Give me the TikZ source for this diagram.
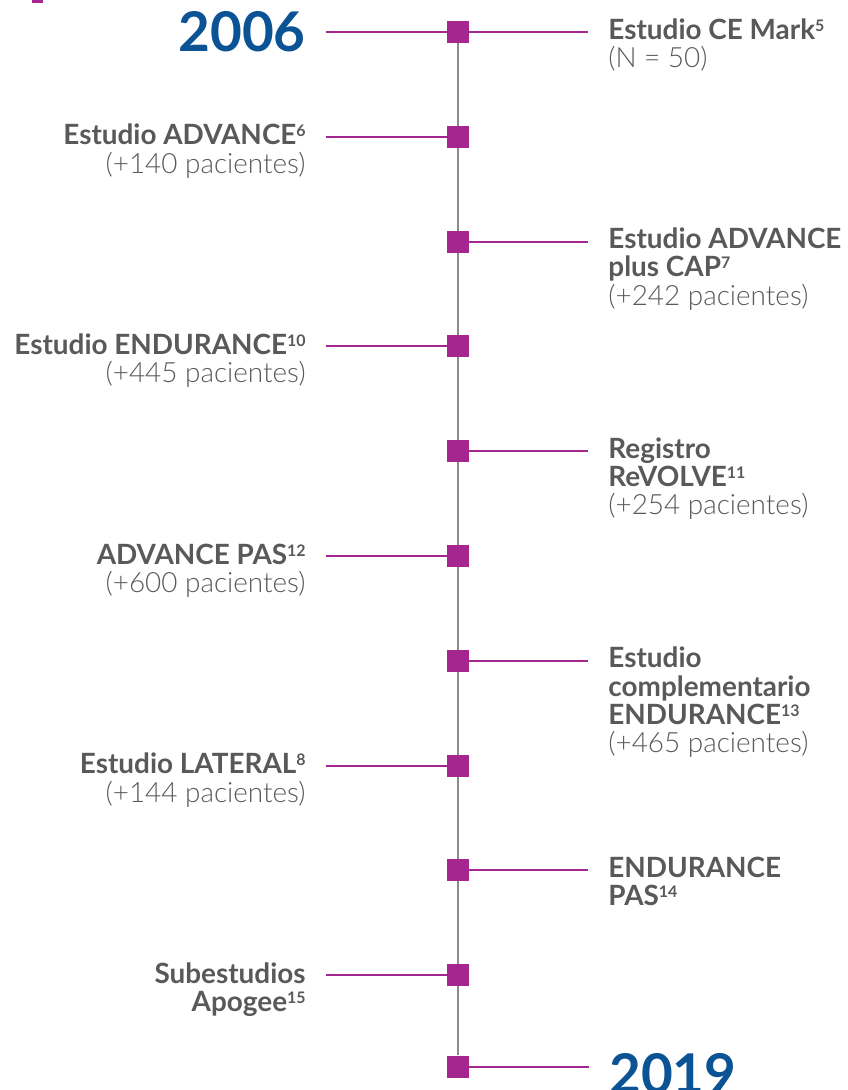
\documentclass[tikz,border=0pt]{standalone}
\usepackage{fontspec}
\setmainfont{Lato}
\IfFontExistsTF{Lato Light}{\newfontfamily\lightfont{Lato Light}}{\newfontfamily\lightfont{Lato}}
\newcommand\lighttext[1]{{\mdseries\lightfont #1}}
\newcommand\supnum[1]{{\raisebox{8bp}{\fontsize{16}{16}\selectfont #1}}}
% stacked labels, baseline on their first line
\newcommand\lstack[1]{\vtop{\let\\\cr\halign{##\hfil\cr#1\crcr}}}
\newcommand\rstack[1]{\vtop{\let\\\cr\halign{\hfil##\cr#1\crcr}}}
\usetikzlibrary{positioning,backgrounds}
\definecolor{tlmagenta}{HTML}{A6268F}
\definecolor{tlblue}{HTML}{0B5394}
\definecolor{tlgray}{HTML}{58595B}
\definecolor{axisgray}{HTML}{8C8C8C}
\tikzset{
    %Define style for the magenta markers
    tick/.style={
           rectangle,
           fill=tlmagenta,
           minimum width=22bp,
           minimum height=22bp,
           inner sep=0pt,
           },
    %Define style for the study labels
    lab/.style={
           inner sep=0pt,
           text=tlgray,
           font=\fontsize{28}{28.5}\selectfont\bfseries,
           },
    year/.style={
           inner sep=0pt,
           text=tlblue,
           font=\fontsize{55}{60}\selectfont\bfseries,
           },
    % Define line styles
    link/.style={
           draw=tlmagenta,
           line width=2bp,
           },
    axis/.style={
           draw=axisgray,
           line width=1.3bp,
           }
}

\begin{document}
\begin{tikzpicture}[x=1bp,y=-1bp,node distance=82.4bp]
\useasboundingbox (0,0) rectangle (848,1090);
\fill[tlmagenta] (32,0) rectangle (43,2.5);
% markers
\node[tick] (t1) at (458,32) {};
\foreach \i [remember=\i as \p (initially 1)] in {2,...,10}
    \node[tick, below=of t\p] (t\i) {};
\node[tick, below=69bp of t10] (t11) {};
% years
\node[year, left=141bp of t1.west] (y2006) {2006};
\node[year, right=140bp of t11.east, yshift=-7bp] (y2019) {2019};
% right side
\node[lab, right=139bp of t1.east, anchor=base west, yshift=-7bp] (l1) {\lstack{Estudio CE Mark\supnum{5}\\\lighttext{(N = 50)}}};
\node[lab, right=139bp of t3.east, anchor=base west, yshift=-7bp] (l3) {\lstack{Estudio ADVANCE\\plus CAP\supnum{7}\\\lighttext{(+242 pacientes)}}};
\node[lab, right=139bp of t5.east, anchor=base west, yshift=-7bp] (l5) {\lstack{Registro\\ReVOLVE\supnum{11}\\\lighttext{(+254 pacientes)}}};
\node[lab, right=139bp of t7.east, anchor=base west, yshift=-7bp] (l7) {\lstack{Estudio\\complementario\\ENDURANCE\supnum{13}\\\lighttext{(+465 pacientes)}}};
\node[lab, right=139bp of t9.east, anchor=base west, yshift=-7bp] (l9) {\lstack{ENDURANCE\\PAS\supnum{14}}};
% left side
\node[lab, left=141bp of t2.west, anchor=base east, yshift=-8bp] (l2) {\rstack{Estudio ADVANCE\supnum{6}\\\lighttext{(+140 pacientes)}}};
\node[lab, left=141bp of t4.west, anchor=base east, yshift=-8bp] (l4) {\rstack{Estudio ENDURANCE\supnum{10}\\\lighttext{(+445 pacientes)}}};
\node[lab, left=141bp of t6.west, anchor=base east, yshift=-8bp] (l6) {\rstack{ADVANCE PAS\supnum{12}\\\lighttext{(+600 pacientes)}}};
\node[lab, left=141bp of t8.west, anchor=base east, yshift=-8bp] (l8) {\rstack{Estudio LATERAL\supnum{8}\\\lighttext{(+144 pacientes)}}};
\node[lab, left=141bp of t10.west, anchor=base east, yshift=-8bp] (l10) {\rstack{Subestudios\\Apogee\supnum{15}}};
% connectors
\begin{scope}[on background layer]
\draw[axis] (t1) -- (t11);
\draw[link] (t1) -- ([xshift=20bp]t1 -| y2006.east);
\draw[link] (t11) -- ([xshift=-20bp]t11 -| y2019.west);
\foreach \i in {1,3,5,7,9}
    \draw[link] (t\i) -- ([xshift=-20bp]t\i -| l\i.west);
\foreach \i in {2,4,6,8,10}
    \draw[link] (t\i) -- ([xshift=20bp]t\i -| l\i.east);
\end{scope}
\end{tikzpicture}
\end{document}
